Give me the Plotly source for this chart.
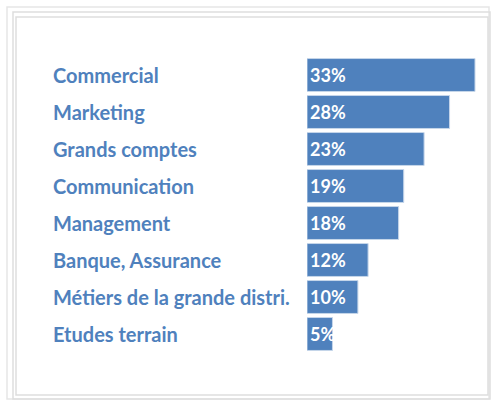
import plotly.graph_objects as go

# data
metiers = ["Commercial", "Marketing", "Grands comptes", "Communication",
           "Management", "Banque, Assurance", "Métiers de la grande distri.",
           "Etudes terrain"]
pourcentages = [33, 28, 23, 19, 18, 12, 10, 5]
etiquettes = [str(p) + "%" for p in pourcentages]

W, H = 491, 402
bleu = "#4f81bd"

def px(x):
  return x / W

def py(y):
  return 1 - y / H

fig = go.Figure()

fig.add_trace(go.Bar(x=pourcentages, y=metiers, orientation="h",
                     marker=dict(color=bleu, line=dict(color="#c6d6ea", width=1)),
                     width=0.89, text=etiquettes, textposition="inside",
                     insidetextanchor="start", textangle=0, constraintext="none",
                     textfont=dict(family="Lato", size=18, color="white", weight="bold"),
                     cliponaxis=False, hoverinfo="skip"))

# labels left aligned, outside the plot area
annotations = []
for m in metiers:
  annotations.append(dict(text="<b>" + m + "</b>", x=px(51), xref="paper", y=m, yref="y",
                          xanchor="left", yanchor="middle", showarrow=False,
                          font=dict(family="Lato", size=20, color="#4f81bd")))

# stacked sheet frame
gris = "#dedede"
shapes = [
  dict(type="rect", xref="paper", yref="paper", x0=px(7), x1=px(489), y0=py(399), y1=py(7),
       line=dict(color="#e6e6e6", width=1.5), layer="below"),
  dict(type="rect", xref="paper", yref="paper", x0=px(13), x1=px(490), y0=py(399), y1=py(12),
       line=dict(color=gris, width=1.5), layer="below"),
  dict(type="rect", xref="paper", yref="paper", x0=px(16), x1=px(488), y0=py(395), y1=py(17),
       line=dict(color=gris, width=1.5), fillcolor="white", layer="below"),
]

fig.update_layout(
  width=W, height=H,
  margin=dict(l=0, r=0, t=0, b=0),
  paper_bgcolor="white", plot_bgcolor="rgba(0,0,0,0)",
  showlegend=False,
  xaxis=dict(domain=[px(307), 1], range=[0, 33 * (W - 307) / (475 - 307)],
             visible=False),
  yaxis=dict(domain=[py(352.5), py(56.5)], range=[7.5, -0.5],
             categoryorder="array", categoryarray=metiers, visible=False),
  annotations=annotations,
  shapes=shapes,
)

# the page has a default body margin, remove it
fig.write_html("out.html", config={"displayModeBar": False},
               post_script="document.body.style.margin = '0';")
